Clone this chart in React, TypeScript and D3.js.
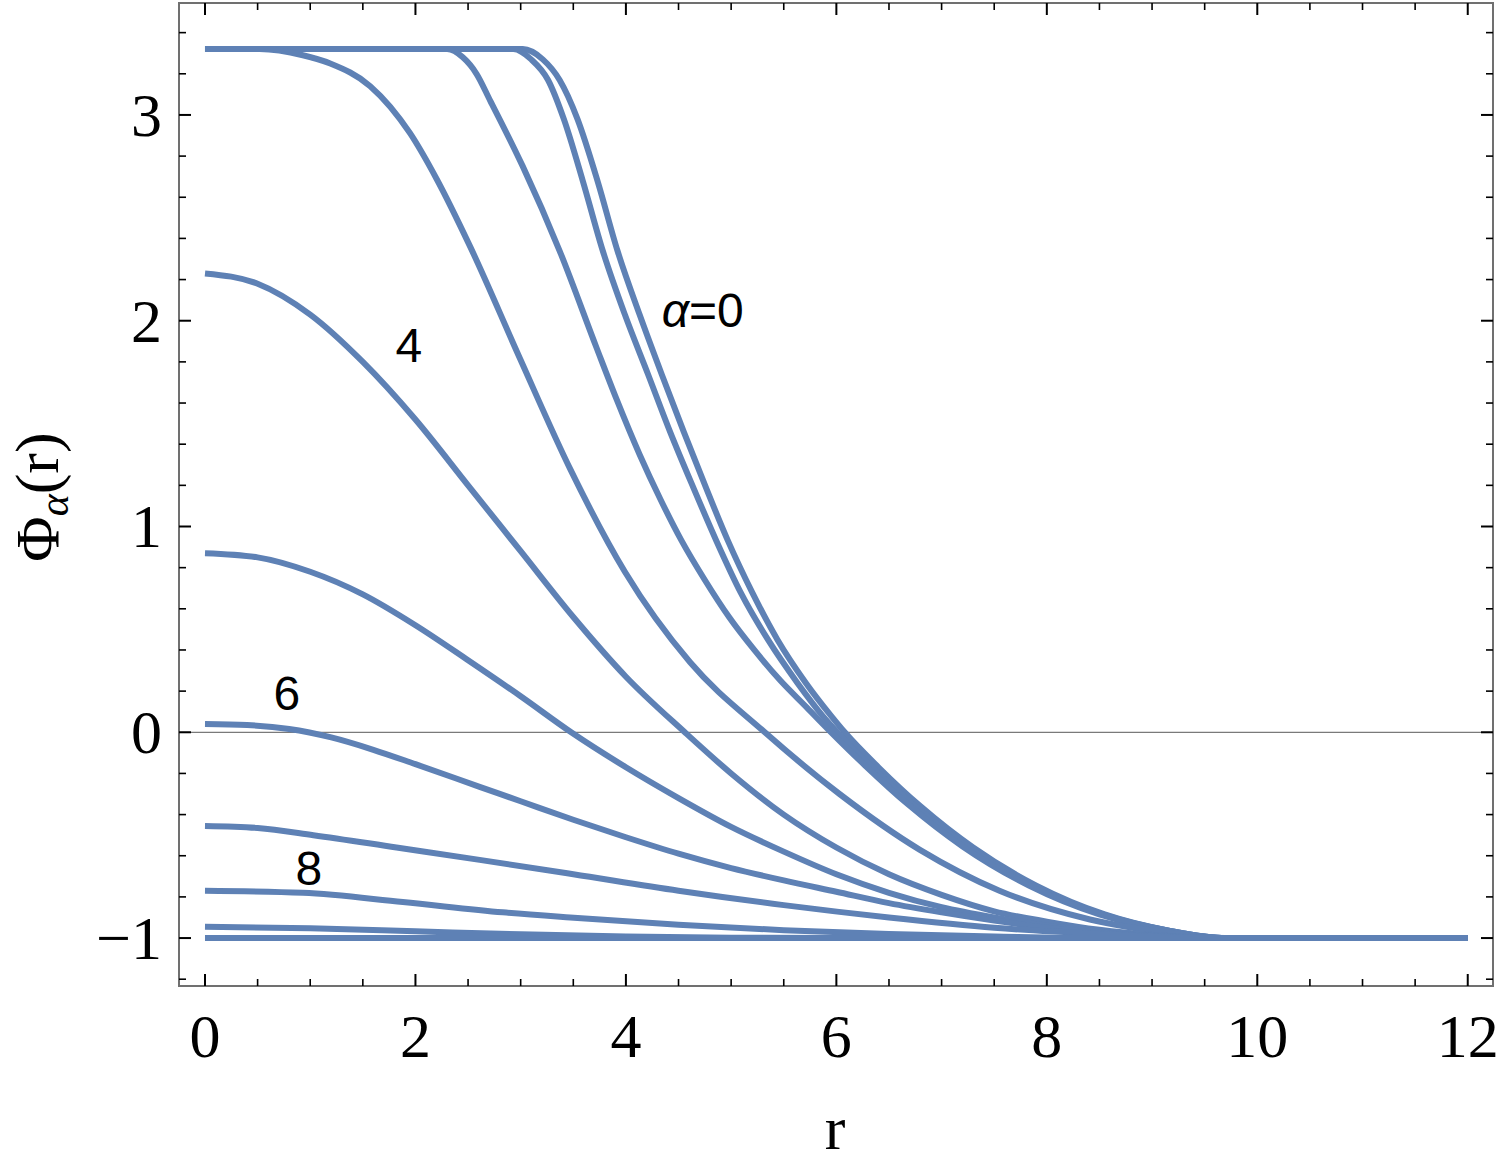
import React from 'react';
import * as d3 from 'd3';

// profiles Phi_alpha(r), one [r, phi] list per alpha
const alpha0 = [[0, 3.32], [2.0, 3.32], [3.02, 3.32], [3.21, 3.27], [3.37, 3.17], [3.54, 2.98], [3.73, 2.68], [3.92, 2.34], [4.13, 2.03], [4.34, 1.74], [4.55, 1.46], [4.76, 1.19], [4.97, 0.93], [5.2, 0.68], [5.44, 0.45], [5.71, 0.24], [5.95, 0.08], [6.08, 0], [6.4, -0.17], [6.8, -0.36], [7.3, -0.56], [7.9, -0.745], [8.55, -0.885], [9.17, -0.965], [9.7, -1], [12, -1]];
const alpha1 = [[0, 3.32], [2.0, 3.32], [2.93, 3.32], [3.1, 3.27], [3.26, 3.17], [3.41, 2.98], [3.59, 2.68], [3.78, 2.34], [3.99, 2.03], [4.21, 1.74], [4.42, 1.46], [4.64, 1.19], [4.86, 0.93], [5.09, 0.68], [5.35, 0.45], [5.63, 0.24], [5.87, 0.08], [6.01, 0], [6.34, -0.17], [6.75, -0.36], [7.26, -0.56], [7.87, -0.745], [8.53, -0.885], [9.17, -0.965], [9.7, -1], [12, -1]];
const alpha2 = [[0, 3.32], [1.5, 3.32], [2.3, 3.32], [2.45, 3.28], [2.58, 3.2], [2.71, 3.07], [3.02, 2.75], [3.37, 2.34], [3.72, 1.87], [3.91, 1.62], [4.13, 1.35], [4.33, 1.13], [4.53, 0.93], [4.75, 0.74], [4.98, 0.56], [5.22, 0.4], [5.47, 0.25], [5.72, 0.12], [5.95, 0], [6.27, -0.16], [6.68, -0.35], [7.2, -0.555], [7.83, -0.745], [8.5, -0.885], [9.17, -0.965], [9.7, -1], [12, -1]];
const alpha3 = [[0, 3.32], [0.52, 3.32], [0.93, 3.29], [1.19, 3.25], [1.57, 3.14], [1.95, 2.91], [2.2, 2.69], [2.52, 2.36], [2.99, 1.82], [3.47, 1.28], [3.99, 0.78], [4.61, 0.34], [5.32, 0], [6.03, -0.3], [6.79, -0.57], [7.55, -0.77], [8.41, -0.91], [9.17, -0.975], [9.7, -1], [12, -1]];
const alpha4 = [[0, 2.23], [0.5, 2.18], [1.0, 2.03], [1.5, 1.8], [2.0, 1.52], [2.5, 1.2], [3.0, 0.88], [3.5, 0.56], [4.0, 0.27], [4.56, 0], [5.0, -0.2], [5.5, -0.4], [6.0, -0.56], [6.5, -0.69], [7.0, -0.79], [7.5, -0.87], [8.0, -0.92], [8.5, -0.96], [9.0, -0.985], [9.7, -1], [12, -1]];
const alpha5 = [[0, 0.87], [0.5, 0.85], [1.0, 0.78], [1.5, 0.67], [2.0, 0.52], [2.5, 0.35], [3.0, 0.175], [3.48, 0], [4.0, -0.17], [4.5, -0.32], [5.0, -0.46], [5.5, -0.58], [6.0, -0.69], [6.5, -0.78], [7.0, -0.85], [7.5, -0.9], [8.0, -0.94], [8.5, -0.97], [9.0, -0.99], [9.7, -1], [12, -1]];
const alpha6 = [[0, 0.04], [0.4, 0.035], [0.8, 0.016], [1.2, -0.025], [1.6, -0.085], [2.0, -0.155], [2.61, -0.265], [3.0, -0.335], [3.5, -0.425], [4.0, -0.51], [4.5, -0.59], [5.0, -0.66], [5.5, -0.72], [6.0, -0.775], [6.5, -0.83], [7.0, -0.875], [7.5, -0.915], [8.0, -0.95], [8.5, -0.975], [9.0, -0.99], [9.7, -1], [12, -1]];
const alpha7 = [[0, -0.455], [0.5, -0.465], [1.03, -0.5], [1.82, -0.56], [2.61, -0.62], [3.5, -0.69], [4.5, -0.77], [5.5, -0.84], [6.5, -0.9], [7.5, -0.95], [8.5, -0.98], [9.5, -1], [12, -1]];
const alpha8 = [[0, -0.77], [0.93, -0.78], [1.88, -0.825], [2.83, -0.875], [3.47, -0.9], [4.5, -0.935], [5.5, -0.962], [6.5, -0.98], [7.5, -0.992], [8.5, -1], [12, -1]];
const alpha9 = [[0, -0.945], [1, -0.952], [2, -0.967], [3, -0.982], [4, -0.992], [5, -0.998], [6, -1], [12, -1]];
const alpha10 = [[0, -1], [12, -1]];

const curves = [alpha0, alpha1, alpha2, alpha3, alpha4, alpha5, alpha6, alpha7, alpha8, alpha9, alpha10];

const xMajor = [0, 2, 4, 6, 8, 10, 12];
const yMajor = [-1, 0, 1, 2, 3];

// curve labels: [r, phi, text]
const labels = [
    [4.34, 1.97, 'α=0'],
    [1.81, 1.8, '4'],
    [0.65, 0.108, '6'],
    [0.86, -0.742, '8'],
];

const LINE = '#5e81b5';
const serif = '"Liberation Serif", "Times New Roman", serif';
const sans = '"Liberation Sans", Arial, sans-serif';

export default function App() {
    const left = 179, right = 1493, top = 3, bottom = 986;

    const x = d3.scaleLinear().domain([-0.247, 12.24]).range([left, right]);
    const y = d3.scaleLinear().domain([-1.233, 3.544]).range([bottom, top]);

    const line = d3.line()
        .x((d) => x(d[0]))
        .y((d) => y(d[1]))
        .curve(d3.curveMonotoneX);

    const xMinor = d3.range(0, 12.01, 0.5).filter((v) => v % 2 !== 0);
    const yMinor = d3.range(-1.2, 3.41, 0.2).filter((v) => Math.abs(v - Math.round(v)) > 0.01);

    return (
        <svg width={1500} height={1167} style={{ position: 'absolute', left: 0, top: 0, background: '#fff' }}>
            {/* zero line */}
            <line x1={left} x2={right} y1={y(0)} y2={y(0)} stroke="#7a7a7a" strokeWidth={1.2} />

            {curves.map((c, i) => (
                <path key={i} d={line(c)} fill="none" stroke={LINE} strokeWidth={6} strokeLinejoin="round" />
            ))}

            {/* frame */}
            <rect x={left} y={top} width={right - left} height={bottom - top} fill="none" stroke="#707070" strokeWidth={2} />

            {/* ticks on all four sides */}
            {xMajor.map((v) => (
                <g key={'xm' + v}>
                    <line x1={x(v)} x2={x(v)} y1={bottom} y2={bottom - 12} stroke="#000" strokeWidth={2} />
                    <line x1={x(v)} x2={x(v)} y1={top} y2={top + 12} stroke="#000" strokeWidth={2} />
                </g>
            ))}
            {xMinor.map((v) => (
                <g key={'xn' + v}>
                    <line x1={x(v)} x2={x(v)} y1={bottom} y2={bottom - 7} stroke="#000" strokeWidth={1.6} />
                    <line x1={x(v)} x2={x(v)} y1={top} y2={top + 7} stroke="#000" strokeWidth={1.6} />
                </g>
            ))}
            {yMajor.map((v) => (
                <g key={'ym' + v}>
                    <line x1={left} x2={left + 12} y1={y(v)} y2={y(v)} stroke="#000" strokeWidth={2} />
                    <line x1={right} x2={right - 12} y1={y(v)} y2={y(v)} stroke="#000" strokeWidth={2} />
                </g>
            ))}
            {yMinor.map((v) => (
                <g key={'yn' + v.toFixed(1)}>
                    <line x1={left} x2={left + 7} y1={y(v)} y2={y(v)} stroke="#000" strokeWidth={1.6} />
                    <line x1={right} x2={right - 7} y1={y(v)} y2={y(v)} stroke="#000" strokeWidth={1.6} />
                </g>
            ))}

            {/* tick labels */}
            {xMajor.map((v) => (
                <text key={'xl' + v} x={x(v)} y={1057} textAnchor="middle" fontFamily={serif} fontSize={62}>{v}</text>
            ))}
            {yMajor.map((v) => (
                <text key={'yl' + v} x={162} y={y(v) + 21} textAnchor="end" fontFamily={serif} fontSize={62}>
                    {v < 0 ? '\u2212' + Math.abs(v) : v}
                </text>
            ))}

            {/* axis titles */}
            <text x={835} y={1149} textAnchor="middle" fontFamily={serif} fontSize={62}>r</text>
            <text transform="translate(58, 497) rotate(-90)" textAnchor="middle" fontFamily={serif} fontSize={62}>
                Φ<tspan fontStyle="italic" fontSize={42} dy={10}>α</tspan><tspan dy={-10}>(r)</tspan>
            </text>

            {/* curve labels */}
            {labels.map(([r, v, t]) => (
                <text key={t} x={x(r)} y={y(v)} fontFamily={sans} fontSize={48}>
                    {t.startsWith('α') ? (<><tspan fontStyle="italic">α</tspan>{t.slice(1)}</>) : t}
                </text>
            ))}
        </svg>
    );
}
